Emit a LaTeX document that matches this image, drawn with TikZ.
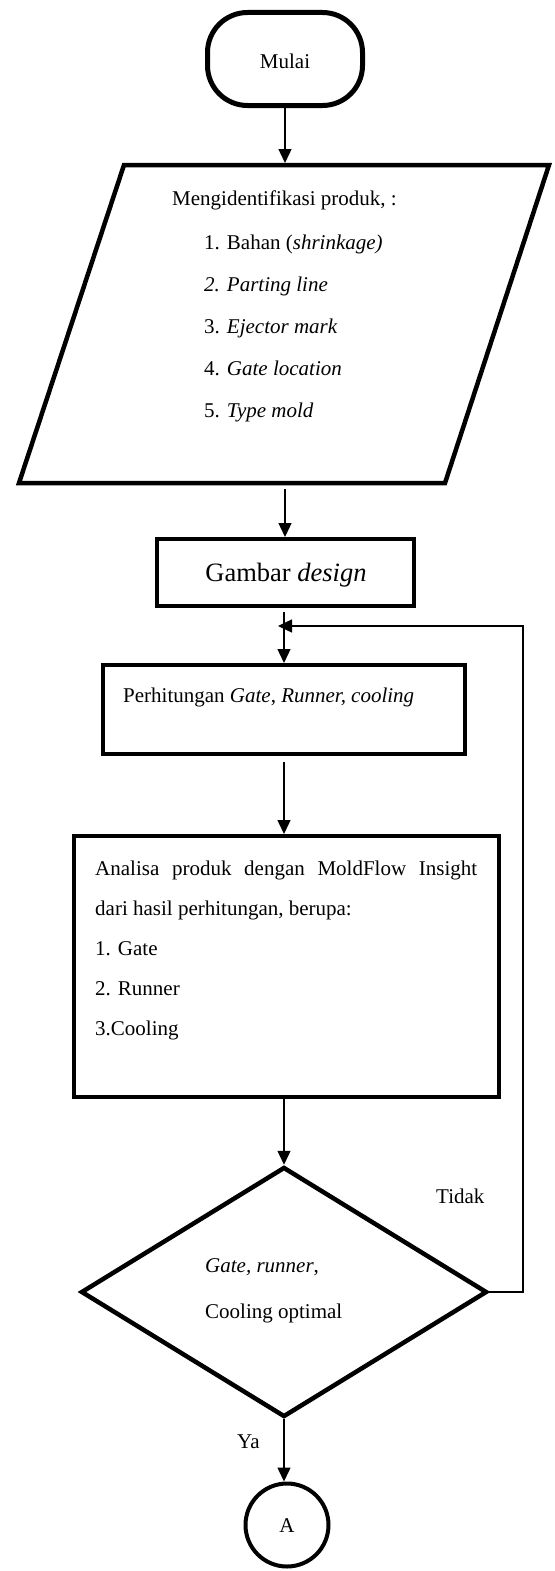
\documentclass[tikz,border=0pt]{standalone}
\usepackage{fontspec}
\setmainfont{Liberation Serif}
\usetikzlibrary{shapes.geometric,arrows.meta}
\begin{document}
\begin{tikzpicture}[x=1pt,y=-1pt,
  thickbox/.style={draw,line width=4pt,inner sep=0pt},
  arr/.style={line width=1.4pt,-{Triangle[length=14pt,width=13pt]}},
  lin/.style={line width=1.4pt},
  txt/.style={font=\fontsize{21}{25}\selectfont,inner sep=0pt,anchor=base west},
  ctxt/.style={font=\fontsize{21}{25}\selectfont,inner sep=0pt,anchor=base},
]
\useasboundingbox (0,0) rectangle (554,1571);

% Start terminal
\node[draw,line width=5pt,rounded corners=40pt,minimum width=155pt,minimum height=93pt] (mulai) at (285,59) {};
\node[ctxt] (tmulai) at (285,69) {Mulai};

% Parallelogram
\draw[line width=4.5pt] (124,165) -- (549,165) -- (445,483) -- (19,483) -- cycle;
\coordinate (ptop) at (285,163);
\coordinate (pbot) at (285,485);
\node[txt] (p0) at (172,205) {Mengidentifikasi produk, :};
\node[txt] (p1) at (204,249) {1. Bahan (\textit{shrinkage)}};
\node[txt] (p2) at (204,291) {\textit{2. Parting line}};
\node[txt] (p3) at (204,333) {3. \textit{Ejector mark}};
\node[txt] (p4) at (204,375) {4. \textit{Gate location}};
\node[txt] (p5) at (204,417) {5. \textit{Type mold}};

% Gambar design
\node[thickbox,minimum width=257pt,minimum height=67pt] (gambar) at (285.5,572.5) {};
\node[font=\fontsize{26.5}{30}\selectfont,inner sep=0pt,anchor=base] (tgambar) at (286,581) {Gambar \textit{design}};

% Perhitungan
\node[thickbox,minimum width=362pt,minimum height=89pt] (perhit) at (284,709.5) {};
\node[txt] (tperhit) at (123,702) {Perhitungan \textit{Gate}, \textit{Runner, cooling}};

% Analisa
\node[thickbox,minimum width=425pt,minimum height=261pt] (analisa) at (286.5,966.5) {};
\node[txt] (a1) at (95,875) {\makebox[382pt][s]{Analisa produk dengan MoldFlow Insight}};
\node[txt] (a2) at (95,915) {dari hasil perhitungan, berupa:};
\node[txt] (a3) at (95,955) {1. Gate};
\node[txt] (a4) at (95,995) {2. Runner};
\node[txt] (a5) at (95,1035) {3.Cooling};

% Decision
\node[draw,diamond,line width=4.5pt,inner sep=0pt,minimum width=406pt,minimum height=250pt] (dec) at (284,1292) {};
\node[txt] (d1) at (205,1272) {\textit{Gate, runner},};
\node[txt] (d2) at (205,1318) {Cooling optimal};
\node[txt] (tidak) at (436,1203) {Tidak};
\node[txt] (ya) at (237,1448) {Ya};

% Connector A
\node[draw,circle,line width=4pt,inner sep=0pt,minimum size=83pt] (conA) at (287,1525) {};
\node[ctxt] (tA) at (287,1532) {A};

% Connectors
\draw[arr] (mulai.south) -- (ptop);
\draw[arr,shorten <=4pt] (pbot) -- (pbot |- gambar.north);
\draw[arr,shorten <=4pt] (perhit.north |- gambar.south) -- (perhit.north);
\draw[arr,shorten <=6pt] (perhit.south) -- (perhit.south |- analisa.north);
\draw[arr] (dec.north |- analisa.south) -- (dec.north);
\draw[arr] (dec.south) -- (dec.south |- conA.north);
\coordinate (lc1) at (523,1292);
\coordinate (lc2) at (523,626);
\coordinate (lend) at (278,626);
\draw[arr,line join=miter] (dec.east) -- (lc1) -- (lc2) -- (lend);
\end{tikzpicture}
\end{document}
